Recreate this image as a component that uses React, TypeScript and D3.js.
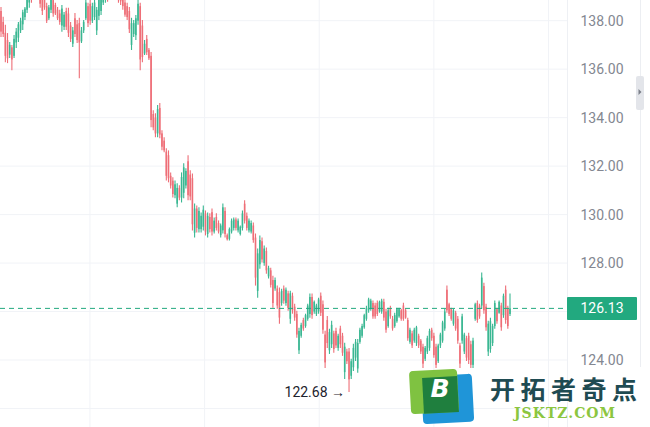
import React from "react";
import * as d3 from "d3";

const opens = [
  138.40,137.95,137.50,137.20,136.60,136.90,136.55,137.10,137.30,137.60,
  137.85,138.15,138.45,138.75,139.30,139.15,139.35,139.65,139.20,138.95,
  138.95,138.60,138.10,138.45,138.85,138.65,138.45,138.30,137.80,137.75,
  138.40,138.30,137.80,137.05,138.10,137.85,137.90,137.15,137.60,138.10,
  138.60,138.70,138.00,138.15,137.60,138.20,138.40,138.75,138.90,139.45,
  139.05,139.30,139.60,139.40,139.30,139.20,139.00,138.75,138.60,138.40,
  137.00,137.45,137.40,138.00,138.60,137.80,136.65,137.25,136.80,136.55,
  134.15,134.00,133.35,134.40,133.35,133.05,132.60,132.45,131.60,131.40,
  130.80,130.45,131.10,130.70,130.90,131.20,132.20,131.65,131.50,129.25,
  130.25,129.40,129.40,129.50,130.05,129.20,129.90,130.10,129.30,129.90,
  129.65,129.15,129.35,130.15,129.15,129.00,129.30,129.45,129.80,129.35,
  129.20,129.45,130.45,129.95,129.35,129.30,129.55,129.05,126.85,127.95,
  128.90,128.00,128.50,127.45,127.70,127.30,126.95,126.95,126.80,126.35,
  126.95,126.35,126.75,125.70,126.65,126.20,125.90,124.40,125.00,125.65,
  125.40,125.70,125.90,126.60,126.00,125.90,126.00,126.65,126.30,125.05,
  125.65,124.40,124.65,125.10,125.20,124.50,125.30,125.00,123.50,124.35,
  124.35,123.35,123.70,124.10,123.65,124.75,125.00,125.35,125.70,126.05,
  126.10,126.35,126.25,126.35,126.00,126.00,126.40,126.00,125.40,126.15,
  125.70,125.40,125.60,125.80,126.05,126.25,126.05,125.65,124.75,125.10,
  124.80,124.70,125.00,124.80,124.55,124.05,124.35,124.50,125.25,125.00,
  124.55,123.95,124.60,124.80,125.30,126.90,126.30,126.10,125.50,125.95,
  125.70,124.60,124.80,124.35,124.90,125.00,124.65,123.80,125.70,126.35,
  126.25,126.25,127.05,126.20,124.35,124.45,124.70,125.40,126.10,125.95,
  126.25,125.85,126.90,126.15,125.90,
];

const highs = [
  138.57,138.16,137.83,137.49,137.12,137.00,137.41,137.70,137.95,138.12,
  138.45,138.57,139.07,139.27,139.48,139.69,139.89,139.78,139.36,139.19,
  139.07,138.74,138.65,139.07,138.98,138.74,138.57,138.45,138.65,138.36,
  138.53,138.53,137.95,137.74,138.32,138.03,138.12,137.74,138.03,138.86,
  138.74,138.86,138.74,138.86,138.57,138.98,139.07,139.27,139.48,139.60,
  139.69,139.89,139.69,139.60,139.48,139.36,139.19,138.86,138.74,138.57,
  138.12,138.03,138.24,138.86,138.74,138.03,137.20,137.41,136.87,136.71,
  134.31,134.18,134.52,134.60,133.48,133.19,132.74,132.65,131.74,131.54,
  131.41,131.29,131.21,131.74,132.12,131.91,132.45,131.83,131.70,130.46,
  130.38,130.30,130.09,130.38,130.17,130.09,130.05,130.25,129.88,130.05,
  129.76,129.63,130.46,130.30,129.22,129.47,129.84,129.88,129.88,129.84,
  129.55,130.17,130.59,130.09,129.84,129.76,129.67,129.22,128.60,129.14,
  129.05,128.72,128.64,127.89,127.81,127.48,127.40,127.07,126.99,126.94,
  127.07,126.99,126.86,126.86,126.78,126.32,126.03,125.33,125.54,125.74,
  125.91,126.32,126.74,126.74,126.45,126.32,126.57,126.78,126.45,125.21,
  125.82,125.29,125.62,125.21,125.33,125.08,125.41,125.12,124.71,124.46,
  124.50,124.05,124.67,124.87,124.87,125.33,125.50,125.91,126.24,126.57,
  126.53,126.45,126.36,126.45,126.45,126.53,126.53,126.11,126.16,126.24,
  125.82,125.95,126.16,126.16,126.11,126.36,126.11,125.74,125.33,125.21,
  125.33,125.41,125.08,124.87,124.67,124.58,125.00,125.29,125.33,125.12,
  124.67,124.67,125.12,125.62,126.11,127.07,126.36,126.16,126.11,126.03,
  125.82,124.71,125.91,125.12,125.00,125.12,124.79,124.92,126.36,126.45,
  126.32,127.61,127.19,126.32,125.62,125.74,125.50,126.45,126.16,126.45,
  126.36,126.74,127.07,126.24,126.74,
];

const lows = [
  137.33,137.33,136.29,136.25,136.46,135.96,136.46,136.87,137.12,137.49,
  137.62,138.03,138.32,138.53,138.74,139.07,139.19,139.07,138.53,138.24,
  138.45,137.91,138.03,138.32,138.16,138.24,138.03,137.83,137.54,137.62,
  137.62,137.33,137.12,136.91,137.33,137.08,135.63,137.08,137.49,138.03,
  137.74,137.83,137.91,138.03,137.41,138.03,138.24,138.65,138.74,138.78,
  138.98,139.07,138.94,138.86,138.74,138.65,138.45,138.16,138.03,137.49,
  136.79,137.33,137.20,137.83,135.96,136.29,136.58,136.58,136.38,133.60,
  133.48,133.19,133.19,133.15,132.65,132.57,131.41,131.33,131.08,130.71,
  130.67,130.30,130.59,130.50,130.67,131.08,130.59,130.59,129.34,129.05,
  129.26,129.26,129.26,129.34,129.14,129.05,129.26,129.14,129.22,129.34,
  129.22,129.05,129.22,129.05,128.93,128.93,129.22,129.34,129.34,129.26,
  129.14,129.34,129.63,129.34,129.26,129.22,128.84,127.07,126.57,127.77,
  128.02,127.89,127.56,127.36,126.99,126.16,126.86,126.11,125.50,126.24,
  126.32,126.24,126.03,125.50,125.91,125.62,124.92,124.25,124.92,125.21,
  125.33,125.62,125.74,125.70,125.91,125.82,125.91,125.82,125.08,123.67,
  124.50,124.25,124.50,124.30,124.50,124.38,124.50,124.17,123.22,123.84,
  122.68,123.22,123.55,123.96,123.47,124.67,124.92,125.29,125.62,125.95,
  126.03,125.70,125.70,125.82,125.95,125.91,125.62,125.12,125.33,125.70,
  125.21,125.33,125.54,125.74,125.62,125.62,125.70,124.79,124.67,124.50,
  124.71,124.58,124.50,124.25,123.67,123.96,124.25,124.38,124.79,124.09,
  123.67,123.88,124.50,124.71,125.21,125.95,125.82,125.62,125.41,125.21,
  124.67,123.67,124.67,124.25,123.96,123.84,123.67,123.67,125.62,125.54,
  125.70,126.11,125.91,125.21,124.17,124.30,124.58,125.29,125.50,125.91,
  125.21,125.74,125.50,125.29,125.82,
];

const closes = [
  137.55,137.45,136.55,136.45,137.00,136.40,137.25,137.55,137.85,138.00,
  138.35,138.50,138.95,139.15,138.90,139.55,139.75,139.20,138.70,138.40,
  138.55,138.00,138.55,138.95,138.30,138.30,138.10,137.95,138.50,138.25,
  137.75,137.50,137.25,137.60,137.45,137.20,137.10,137.60,137.95,138.75,
  137.90,138.00,138.60,138.75,138.45,138.90,138.95,139.20,139.35,139.00,
  139.60,139.80,139.10,139.00,138.85,138.80,138.60,138.25,138.15,137.65,
  137.90,137.90,138.10,138.70,136.40,136.50,137.05,136.70,136.45,133.90,
  133.60,133.35,134.35,133.30,132.80,132.65,131.60,131.50,131.20,130.85,
  131.25,131.10,130.70,131.55,131.95,131.80,130.80,130.75,129.60,130.25,
  129.45,130.15,129.95,130.20,129.30,129.95,129.40,129.30,129.75,129.45,
  129.30,129.55,130.30,129.20,128.98,129.40,129.75,129.80,129.45,129.75,
  129.50,130.05,129.75,129.45,129.75,129.65,128.95,127.40,128.40,128.95,
  128.15,128.60,127.70,127.80,127.10,126.35,127.30,126.25,125.75,126.85,
  126.45,126.90,126.15,126.75,126.05,125.75,125.05,125.20,125.45,125.30,
  125.85,126.25,126.60,125.85,126.40,126.25,126.50,125.95,125.25,123.90,
  124.70,125.15,125.45,124.45,124.60,125.00,124.65,124.30,124.55,123.95,
  123.20,123.95,124.50,124.75,124.70,125.25,125.40,125.85,126.15,126.50,
  126.45,125.80,125.80,125.90,126.40,126.45,125.75,125.25,126.05,125.80,
  125.30,125.85,126.10,126.10,125.70,125.70,125.75,124.90,125.25,124.60,
  125.25,125.35,124.60,124.35,123.85,124.50,124.90,125.20,124.90,124.20,
  123.80,124.60,125.05,125.55,126.00,126.05,125.90,125.70,126.05,125.30,
  124.80,123.85,125.80,125.05,124.10,124.00,123.80,124.80,126.30,125.65,
  125.80,127.40,126.05,125.35,125.50,125.60,125.40,126.35,125.60,126.40,
  125.35,126.65,125.65,125.40,126.13,
];

// 126.00 is hidden behind the last-price tag in the reference
const priceTicks = [124, 128, 130, 132, 134, 136, 138];
const gridTicks = [122, 124, 126, 128, 130, 132, 134, 136, 138];
const timeGridIdx = [40.9, 93.6, 146.3, 199.0, 251.7];
const lastPrice = 126.13;
const lowPrice = 122.68;
const lowIndex = 160;

const UP = "#3ab792";
const DOWN = "#ee6e77";
const LAST = "#22a97f";

export default function App() {
  const W = 650;
  const H = 427;
  const N = closes.length;
  const plotRight = 567;
  const y = d3.scaleLinear().domain([124, 138]).range([360, 20.7]);
  const x = d3.scaleLinear().domain([0, N - 1]).range([1, 510]);
  const fmt = d3.format(".2f");
  const font = "Roboto, 'Noto Sans', sans-serif";

  return (
    <svg
      width={W}
      height={H}
      style={{ position: "absolute", left: 0, top: 0, background: "#fff" }}
      fontFamily={font}
    >
      <rect x={0} y={0} width={W} height={H} fill="#ffffff" />
      {gridTicks.map((t) => (
        <line key={"h" + t} x1={0} x2={plotRight} y1={y(t)} y2={y(t)} stroke="#f1f3f7" strokeWidth={1} />
      ))}
      {timeGridIdx.map((t) => (
        <line key={"v" + t} x1={x(t)} x2={x(t)} y1={0} y2={H} stroke="#f1f3f7" strokeWidth={1} />
      ))}
      <line x1={plotRight + 0.5} x2={plotRight + 0.5} y1={0} y2={H} stroke="#eef0f4" />
      <line x1={640.5} x2={640.5} y1={0} y2={367} stroke="#eceef2" />

      <g>
        {closes.map((c, i) => {
          const o = opens[i];
          const up = c >= o;
          const col = up ? UP : DOWN;
          const cx = x(i);
          const top = y(Math.max(o, c));
          const bot = y(Math.min(o, c));
          return (
            <g key={i}>
              <line x1={cx} x2={cx} y1={y(highs[i])} y2={y(lows[i])} stroke={col} strokeWidth={1.1} />
              <rect x={cx - 0.8} width={1.6} y={top} height={Math.max(1, bot - top)} fill={col} />
            </g>
          );
        })}
      </g>

      <line
        x1={0}
        x2={plotRight}
        y1={y(lastPrice)}
        y2={y(lastPrice)}
        stroke={LAST}
        strokeWidth={1}
        strokeDasharray="5 4"
      />

      {priceTicks.map((t) => (
        <text key={"l" + t} x={602} y={y(t)} dy="0.36em" textAnchor="middle" fontSize={14} fill="#838791">
          {fmt(t)}
        </text>
      ))}
      <rect x={plotRight} y={y(lastPrice) - 11.5} width={70} height={23} fill={LAST} rx={1} />
      <text x={602} y={y(lastPrice)} dy="0.36em" textAnchor="middle" fontSize={14} fill="#ffffff">
        {fmt(lastPrice)}
      </text>

      <rect x={636} y={76} width={8} height={34} rx={2} fill="#e3e5ea" />
      <path d="M638.5,89 L641.5,92 L638.5,95 Z" fill="#7c808a" />

      <text x={x(lowIndex) - 4} y={y(lowPrice)} dy="0.36em" textAnchor="end" fontSize={14} fill="#1e222d">
        {fmt(lowPrice) + " →"}
      </text>

      <g>
        <rect x={422} y={375} width={51} height={48} rx={4} fill="#1f95d8" transform="rotate(-3 447 399)" />
        <rect x={410} y={370} width={48} height={43} rx={4} fill="#7fc241" transform="rotate(-3 434 391)" />
        <rect x={423} y={377} width={35} height={36} fill="#1f7f3e" transform="rotate(-3 440 395)" />
        <text x={440} y={397} textAnchor="middle" fontSize={25} fontWeight="bold" fontStyle="italic" fill="#ffffff" fontFamily="'DejaVu Sans', sans-serif">
          B
        </text>
        <text x={490} y={399} fontSize={25} fontWeight="bold" letterSpacing={5.5} fill="#1f4b52" fontFamily="'Noto Sans CJK SC', sans-serif">
          开拓者奇点
        </text>
        <text x={565} y={418} textAnchor="middle" fontSize={14} fontWeight="bold" letterSpacing={1} fill="#8cc63f" fontFamily="'DejaVu Serif', serif">
          JSKTZ.COM
        </text>
      </g>
    </svg>
  );
}
